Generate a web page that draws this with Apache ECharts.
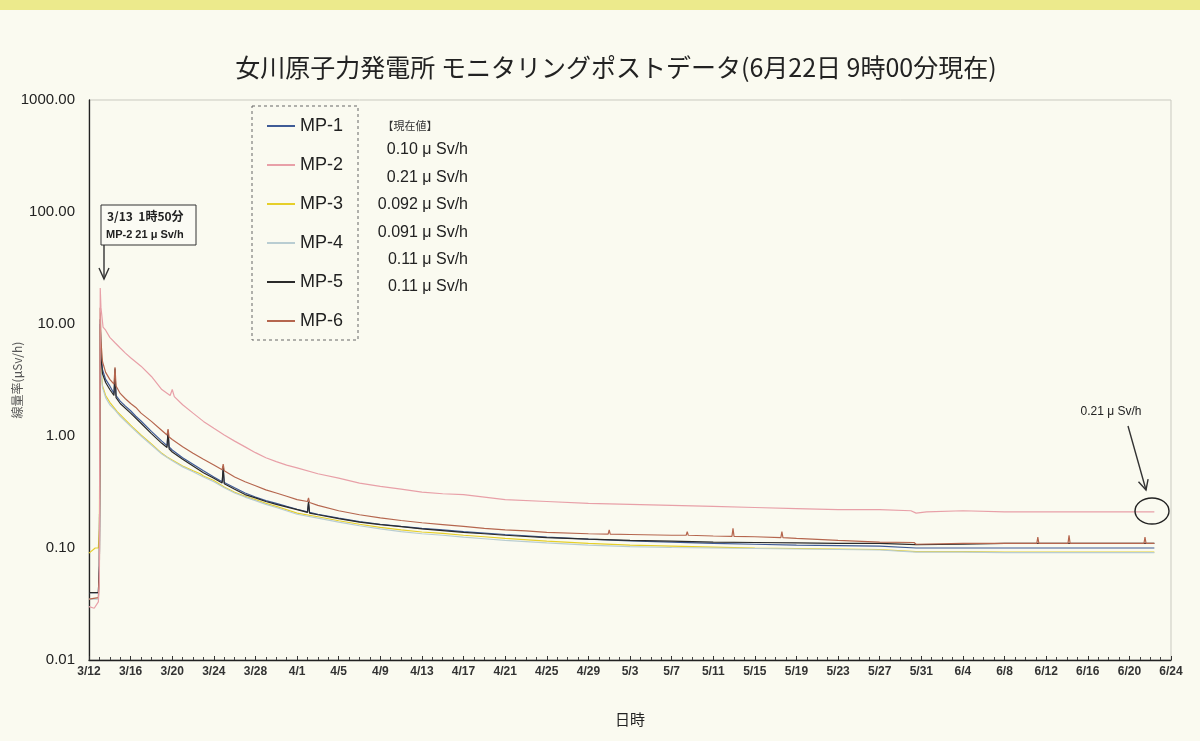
<!DOCTYPE html>
<html>
<head>
<meta charset="utf-8">
<script src="https://cdn.jsdelivr.net/npm/echarts@6/dist/echarts.min.js"></script>
<style>
html,body{margin:0;padding:0;background:#fafaf0;}
#chart{width:1200px;height:741px;}
</style>
</head>
<body>
<div id="chart"></div>
<script>
// ---- data (x = days since 3/12 00:00, y = μSv/h) ----
const seriesNames = ['MP-1','MP-2','MP-3','MP-4','MP-5','MP-6'];
const currentValues = ['0.10','0.21','0.092','0.091','0.11','0.11'];
const xTickLabels = ['3/12','3/16','3/20','3/24','3/28','4/1','4/5','4/9','4/13','4/17','4/21','4/25','4/29','5/3','5/7','5/11','5/15','5/19','5/23','5/27','5/31','6/4','6/8','6/12','6/16','6/20','6/24'];
const yTickLabels = {0.01:'0.01',0.1:'0.10',1:'1.00',10:'10.00',100:'100.00',1000:'1000.00'};

const mp1 = [[0,0.04],[0.9,0.04],[1.0,0.07],[1.08,10],[1.15,5.5],[1.3,3.9],[1.6,3.2],[2,2.8],[2.4,2.4],[2.5,3.4],[2.6,2.3],[3,2.05],[3.5,1.85],[4,1.68],[4.5,1.5],[5,1.36],[6,1.1],[7,0.90],[7.5,0.82],[7.6,1.1],[7.7,0.80],[8,0.75],[9,0.64],[10,0.56],[11,0.49],[12,0.43],[12.8,0.39],[12.9,0.50],[13,0.385],[14,0.345],[15,0.31],[16,0.285],[17,0.265],[18,0.25],[19,0.235],[20,0.222],[21,0.21],[21.1,0.25],[21.2,0.208],[22,0.20],[24,0.185],[26,0.172],[28,0.163],[30,0.156],[32,0.15],[34,0.145],[36,0.14],[38,0.136],[40,0.132],[44,0.125],[48,0.12],[52,0.116],[56,0.113],[60,0.11],[64,0.108],[68,0.106],[72,0.105],[76,0.104],[79.5,0.10],[84,0.10],[88,0.10],[92,0.10],[96,0.10],[100,0.10],[102.4,0.10]];
const mp2 = [[0,0.030],[0.5,0.029],[0.9,0.033],[1.0,0.05],[1.08,21],[1.15,14],[1.35,9.4],[1.6,8.8],[2,7.6],[2.5,6.8],[3,6.1],[3.5,5.5],[4,5.0],[5,4.2],[6,3.4],[7,2.6],[7.8,2.3],[8.0,2.6],[8.2,2.25],[9,1.9],[10,1.6],[11,1.35],[12,1.17],[13,1.02],[14,0.90],[15,0.80],[16,0.71],[17,0.64],[18,0.59],[19,0.55],[20,0.52],[22,0.46],[24,0.42],[26,0.38],[28,0.355],[30,0.335],[32,0.315],[34,0.305],[36,0.30],[38,0.285],[40,0.27],[44,0.26],[48,0.25],[52,0.245],[56,0.24],[60,0.235],[64,0.23],[68,0.225],[72,0.22],[76,0.22],[79,0.215],[79.5,0.205],[80.5,0.21],[84,0.215],[88,0.21],[92,0.21],[96,0.21],[100,0.21],[102.4,0.21]];
const mp3 = [[0,0.09],[0.6,0.1],[0.9,0.1],[1.0,0.15],[1.08,9],[1.15,4],[1.3,2.8],[1.6,2.3],[2,2.0],[2.5,1.75],[2.7,1.65],[3,1.55],[4,1.25],[4.2,1.2],[5,1.02],[6,0.85],[7,0.70],[7.5,0.65],[8,0.61],[9,0.54],[10,0.49],[10.7,0.46],[11,0.44],[12,0.40],[13,0.35],[14,0.315],[15,0.29],[16,0.27],[17,0.25],[18,0.235],[20,0.205],[22,0.19],[24,0.175],[26,0.163],[28,0.153],[30,0.145],[32,0.139],[34,0.135],[36,0.13],[38,0.126],[40,0.122],[44,0.115],[48,0.11],[52,0.106],[56,0.104],[60,0.102],[64,0.1],[68,0.099],[72,0.098],[76,0.097],[79.5,0.093],[84,0.093],[88,0.092],[92,0.092],[96,0.092],[100,0.092],[102.4,0.092]];
const mp4 = [[0,0.035],[0.9,0.035],[1.0,0.06],[1.08,8],[1.15,3.8],[1.3,2.7],[1.6,2.2],[2,1.9],[2.5,1.7],[3,1.5],[4,1.22],[5,1.0],[6,0.83],[7,0.69],[8,0.60],[9,0.53],[10,0.48],[11,0.43],[12,0.39],[13,0.345],[14,0.31],[15,0.285],[16,0.265],[17,0.245],[18,0.23],[20,0.2],[22,0.185],[24,0.17],[26,0.158],[28,0.148],[30,0.14],[32,0.134],[34,0.13],[36,0.125],[38,0.121],[40,0.117],[44,0.111],[48,0.106],[52,0.103],[56,0.101],[60,0.1],[64,0.099],[68,0.098],[72,0.097],[76,0.096],[79.5,0.092],[84,0.092],[88,0.091],[92,0.091],[96,0.091],[100,0.091],[102.4,0.091]];
const mp5 = [[0,0.04],[0.9,0.04],[1.0,0.07],[1.08,11],[1.15,5],[1.3,3.6],[1.6,3.0],[2,2.6],[2.4,2.3],[2.5,4.0],[2.6,2.2],[3,1.95],[4,1.6],[5,1.3],[6,1.05],[7,0.86],[7.5,0.79],[7.6,1.12],[7.7,0.77],[8,0.72],[9,0.62],[10,0.54],[11,0.47],[12,0.42],[12.8,0.38],[12.9,0.54],[13,0.375],[14,0.335],[15,0.30],[16,0.28],[17,0.26],[18,0.245],[20,0.22],[21,0.208],[21.1,0.26],[21.2,0.205],[22,0.198],[24,0.183],[26,0.17],[28,0.162],[30,0.155],[32,0.148],[34,0.143],[36,0.138],[38,0.134],[40,0.13],[44,0.124],[48,0.12],[52,0.117],[56,0.115],[60,0.113],[64,0.112],[68,0.111],[72,0.11],[76,0.11],[79.5,0.107],[84,0.108],[88,0.11],[92,0.11],[96,0.11],[100,0.11],[102.4,0.11]];
const mp6 = [[0,0.035],[0.9,0.036],[1.0,0.06],[1.08,14],[1.15,7],[1.3,4.6],[1.6,3.7],[2,3.2],[2.4,2.9],[2.5,4.1],[2.6,2.8],[3,2.4],[3.5,2.15],[4,1.95],[4.5,1.8],[5,1.6],[6,1.35],[7,1.12],[7.5,1.02],[7.6,1.15],[7.7,0.98],[8,0.93],[9,0.80],[10,0.70],[11,0.62],[12,0.55],[12.8,0.50],[12.9,0.56],[13.0,0.49],[14,0.43],[15,0.39],[16,0.36],[17,0.33],[18,0.31],[19,0.29],[20,0.27],[21,0.26],[21.1,0.28],[21.2,0.255],[22,0.24],[24,0.215],[26,0.198],[28,0.186],[30,0.176],[32,0.168],[34,0.162],[36,0.156],[38,0.15],[40,0.145],[42,0.142],[44,0.138],[48,0.134],[49.9,0.133],[50,0.145],[50.1,0.133],[52,0.132],[56,0.13],[57.4,0.13],[57.5,0.14],[57.6,0.13],[60,0.128],[61.8,0.127],[61.9,0.15],[62,0.127],[64,0.126],[66.5,0.124],[66.6,0.14],[66.7,0.124],[68,0.122],[72,0.117],[76,0.113],[79.3,0.112],[79.5,0.108],[84,0.11],[88,0.11],[91.1,0.11],[91.2,0.125],[91.3,0.11],[94.1,0.11],[94.2,0.13],[94.3,0.11],[96,0.11],[100,0.11],[101.4,0.11],[101.5,0.125],[101.6,0.11],[102.4,0.11]];

const seriesData = [mp1, mp2, mp3, mp4, mp5, mp6];
const colors = ['#3f5b96','#e8a0a8','#e6cf2a','#b9cdd2','#2a2a2a','#b5664e'];

const chart = echarts.init(document.getElementById('chart'), null, {renderer:'canvas'});
const baseFont = 'Liberation Sans, Arial, sans-serif';
const jpFont = 'Noto Sans CJK JP, sans-serif';

const valueTexts = currentValues.map((v, i) => ({
  type: 'text', x: 468, y: 150 + i * 27.4,
  style: { text: v + ' μ Sv/h', fill: '#222', font: '16px Liberation Sans, Arial, sans-serif', textAlign: 'right', textVerticalAlign: 'middle' }
}));

chart.setOption({
  backgroundColor: '#fafaf0',
  animation: false,
  color: colors,
  title: {
    text: '女川原子力発電所 モニタリングポストデータ(6月22日 9時00分現在)',
    left: 611, top: 50, textAlign: 'center',
    textStyle: { fontFamily: jpFont, fontSize: 25, fontWeight: 'normal', color: '#222' }
  },
  legend: {
    data: seriesNames,
    orient: 'vertical', left: 262, top: 112,
    itemWidth: 28, itemHeight: 2, itemGap: 21, icon: 'rect',
    textStyle: { fontFamily: baseFont, fontSize: 18, color: '#222' }
  },
  grid: { left: 89, right: 29, top: 100, bottom: 81, outerBoundsMode: 'none', containLabel: false, show: true, borderColor: '#c9c9c0', borderWidth: 1, backgroundColor: 'transparent' },
  xAxis: {
    type: 'value', min: 0, max: 104, interval: 4,
    name: '日時', nameLocation: 'middle', nameGap: 52,
    nameTextStyle: { fontFamily: jpFont, fontSize: 15, color: '#222' },
    axisLine: { lineStyle: { color: '#222', width: 1.3 } },
    axisTick: { show: true, inside: true, length: 4, lineStyle: { color: '#333' } },
    minorTick: { show: true, splitNumber: 4, length: 3, lineStyle: { color: '#444' } },
    splitLine: { show: false },
    axisLabel: {
      margin: 6, fontSize: 12, color: '#333', fontWeight: 'bold', fontFamily: 'Liberation Sans Narrow, Liberation Sans, Arial, sans-serif',
      formatter: v => xTickLabels[Math.round(v / 4)] || ''
    }
  },
  yAxis: {
    type: 'log', logBase: 10, min: 0.01, max: 1000,
    name: '線量率(μSv/h)', nameLocation: 'middle', nameGap: 66, nameMoveOverlap: false,
    nameTextStyle: { fontFamily: jpFont, fontSize: 12, color: '#555' },
    axisLine: { show: true, lineStyle: { color: '#222', width: 1.3 } },
    axisTick: { show: false },
    splitLine: { show: false },
    axisLabel: {
      margin: 14, fontSize: 15, color: '#222', fontFamily: baseFont,
      formatter: v => { const k = Object.keys(yTickLabels).find(t => Math.abs(Math.log10(+t) - Math.log10(v)) < 1e-6); return k ? yTickLabels[k] : ''; }
    }
  },
  series: seriesNames.map((n, i) => ({
    name: n, type: 'line', data: seriesData[i], showSymbol: false, symbol: 'none',
    lineStyle: { width: 1.2, color: colors[i] }, itemStyle: { color: colors[i] },
    z: i === 1 ? 3 : 2
  })),
  graphic: [
    { type: 'rect', shape: { x: 0, y: 0, width: 1200, height: 10 }, style: { fill: '#ecea8c' }, silent: true },
    { type: 'rect', shape: { x: 252, y: 106, width: 106, height: 234 }, style: { fill: 'none', stroke: '#666', lineWidth: 1, lineDash: [3, 3] }, silent: true },
    { type: 'text', x: 410, y: 126, style: { text: '【現在値】', fill: '#333', font: '11px Noto Sans CJK JP, sans-serif', textAlign: 'center', textVerticalAlign: 'middle' } },
    ...valueTexts,
    // left annotation
    { type: 'rect', shape: { x: 101, y: 205, width: 95, height: 40 }, style: { fill: '#fbfbf4', stroke: '#333', lineWidth: 1 }, z: 10 },
    { type: 'text', x: 107, y: 216, z: 11, style: { text: '3/13  1時50分', fill: '#222', font: 'bold 12px Noto Sans CJK JP, sans-serif', textVerticalAlign: 'middle' } },
    { type: 'text', x: 106, y: 235, z: 11, style: { text: 'MP-2 21 μ Sv/h', fill: '#222', font: 'bold 11px Liberation Sans Narrow, Liberation Sans, sans-serif', textVerticalAlign: 'middle' } },
    { type: 'line', z: 11, shape: { x1: 104, y1: 245, x2: 104, y2: 279 }, style: { stroke: '#333', lineWidth: 1.4 } },
    { type: 'polyline', z: 11, shape: { points: [[99, 268], [104, 279], [109, 268]] }, style: { stroke: '#333', lineWidth: 1.4, fill: 'none' } },
    // right annotation
    { type: 'text', x: 1111, y: 412, style: { text: '0.21 μ Sv/h', fill: '#222', font: '12px Liberation Sans, sans-serif', textAlign: 'center', textVerticalAlign: 'middle' } },
    { type: 'line', z: 11, shape: { x1: 1128, y1: 426, x2: 1146, y2: 490 }, style: { stroke: '#333', lineWidth: 1.4 } },
    { type: 'polyline', z: 11, shape: { points: [[1148.1, 479.1], [1146, 490], [1138.5, 481.7]] }, style: { stroke: '#333', lineWidth: 1.4, fill: 'none' } },
    { type: 'ellipse', z: 11, shape: { cx: 1152, cy: 511, rx: 17, ry: 13 }, style: { stroke: '#222', lineWidth: 1.4, fill: 'none' } }
  ]
});
</script>
</body>
</html>
